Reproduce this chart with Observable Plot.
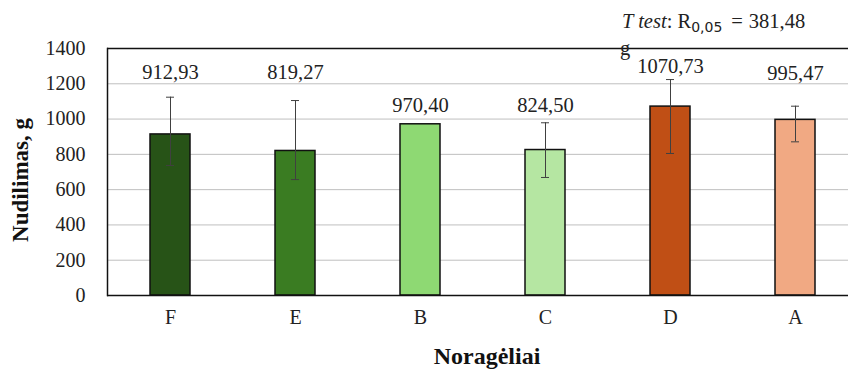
<!DOCTYPE html>
<html>
<head>
<meta charset="utf-8">
<script src="https://cdn.jsdelivr.net/npm/d3@7"></script>
<script src="https://cdn.jsdelivr.net/npm/@observablehq/plot@0.6"></script>
<style>
  html, body { margin: 0; padding: 0; background: #fff; }
  #chart svg { display: block; }
  #chart svg, #chart svg text { font-family: "Liberation Serif", "DejaVu Serif", serif; }
</style>
</head>
<body>
<div id="chart"></div>
<script>
// Treatment groups, in display order
const groups = ["F", "E", "B", "C", "D", "A"];
// Mean yield per group, g
const means = [912.93, 819.27, 970.40, 824.50, 1070.73, 995.47];
// Error bar limits, g (group B has none)
const errLow = [737, 657, null, 669, 805, 871];
const errHigh = [1124, 1105, null, 979, 1224, 1073];
// Height at which each value label sits, g
const labelAt = [1266, 1266, 1080, 1077, 1301, 1256];
// Bar fills
const fills = ["#275317", "#3a7c22", "#8ed973", "#b5e6a2", "#c04f15", "#f1a983"];
// Value axis ticks
const yTicks = [0, 200, 400, 600, 800, 1000, 1200, 1400];

const rows = groups.map((g, i) => ({
  group: g, mean: means[i], lo: errLow[i], hi: errHigh[i],
  labelY: labelAt[i], fill: fills[i]
}));
const errRows = rows.filter(d => d.lo != null);
const fmt = v => d3.format(".2f")(v).replace(".", ",");

const chart = Plot.plot({
  width: 848,
  height: 369,
  marginLeft: 107,
  marginRight: 0,
  marginTop: 48,
  marginBottom: 74,
  style: { fontSize: "20px", color: "black", background: "white" },
  x: { type: "band", domain: groups, range: [107, 857], paddingInner: 0.68, paddingOuter: 0.34, align: 0.5 },
  y: { domain: [0, 1400] },
  marks: [
    Plot.gridY(yTicks, { stroke: "#bfbfbf", strokeOpacity: 1, strokeWidth: 1 }),
    Plot.barY(rows, { x: "group", y: "mean", fill: d => d.fill, stroke: "#111", strokeWidth: 1.5 }),
    Plot.ruleX(errRows, { x: "group", y1: "lo", y2: "hi", stroke: "#404040", strokeWidth: 1 }),
    Plot.tickY(errRows, { x: "group", y: "lo", stroke: "#404040", strokeWidth: 1, insetLeft: 16, insetRight: 16 }),
    Plot.tickY(errRows, { x: "group", y: "hi", stroke: "#404040", strokeWidth: 1, insetLeft: 16, insetRight: 16 }),
    Plot.text(rows, { x: "group", y: "labelY", text: d => fmt(d.mean), fill: "#222", fontSize: 20.5 }),
    Plot.ruleY([0, 1400], { stroke: "#111", strokeWidth: 1.5 }),
    Plot.frame({ anchor: "left", stroke: "#111", strokeWidth: 1.5 }),
    Plot.axisY({ ticks: yTicks, tickFormat: d => String(d), tickSize: 0, tickPadding: 22, label: null, fill: "#222", fontSize: 20 }),
    Plot.axisX({ tickSize: 0, tickPadding: 14, label: null, fill: "#222", fontSize: 20 })
  ]
});

const svg = d3.select(chart);

// Value axis title
svg.append("text")
  .attr("transform", "translate(28,180) rotate(-90)")
  .attr("text-anchor", "middle")
  .attr("font-weight", "bold")
  .attr("font-size", 23)
  .attr("fill", "#111")
  .text("Nudilimas, g");

// Category axis title
svg.append("text")
  .attr("x", 487)
  .attr("y", 364)
  .attr("text-anchor", "middle")
  .attr("font-weight", "bold")
  .attr("font-size", 24)
  .attr("fill", "#111")
  .text("Noragėliai");

// Significance note
const note = svg.append("text")
  .attr("x", 622)
  .attr("y", 28)
  .attr("text-anchor", "start")
  .attr("font-size", 20.5)
  .attr("fill", "#222");
note.append("tspan").attr("font-style", "italic").text("T test");
note.append("tspan").text(": R");
note.append("tspan")
  .style("font-family", "'DejaVu Sans', sans-serif")
  .attr("font-size", 14)
  .attr("dy", 4)
  .text("0,05");
note.append("tspan").attr("dy", -4).attr("dx", 9).text("=");
note.append("tspan").attr("dx", 6).text("381,48");

svg.append("text")
  .attr("x", 620)
  .attr("y", 55)
  .attr("text-anchor", "start")
  .attr("font-size", 20.5)
  .attr("fill", "#222")
  .text("g");

document.getElementById("chart").append(chart);
</script>
</body>
</html>
